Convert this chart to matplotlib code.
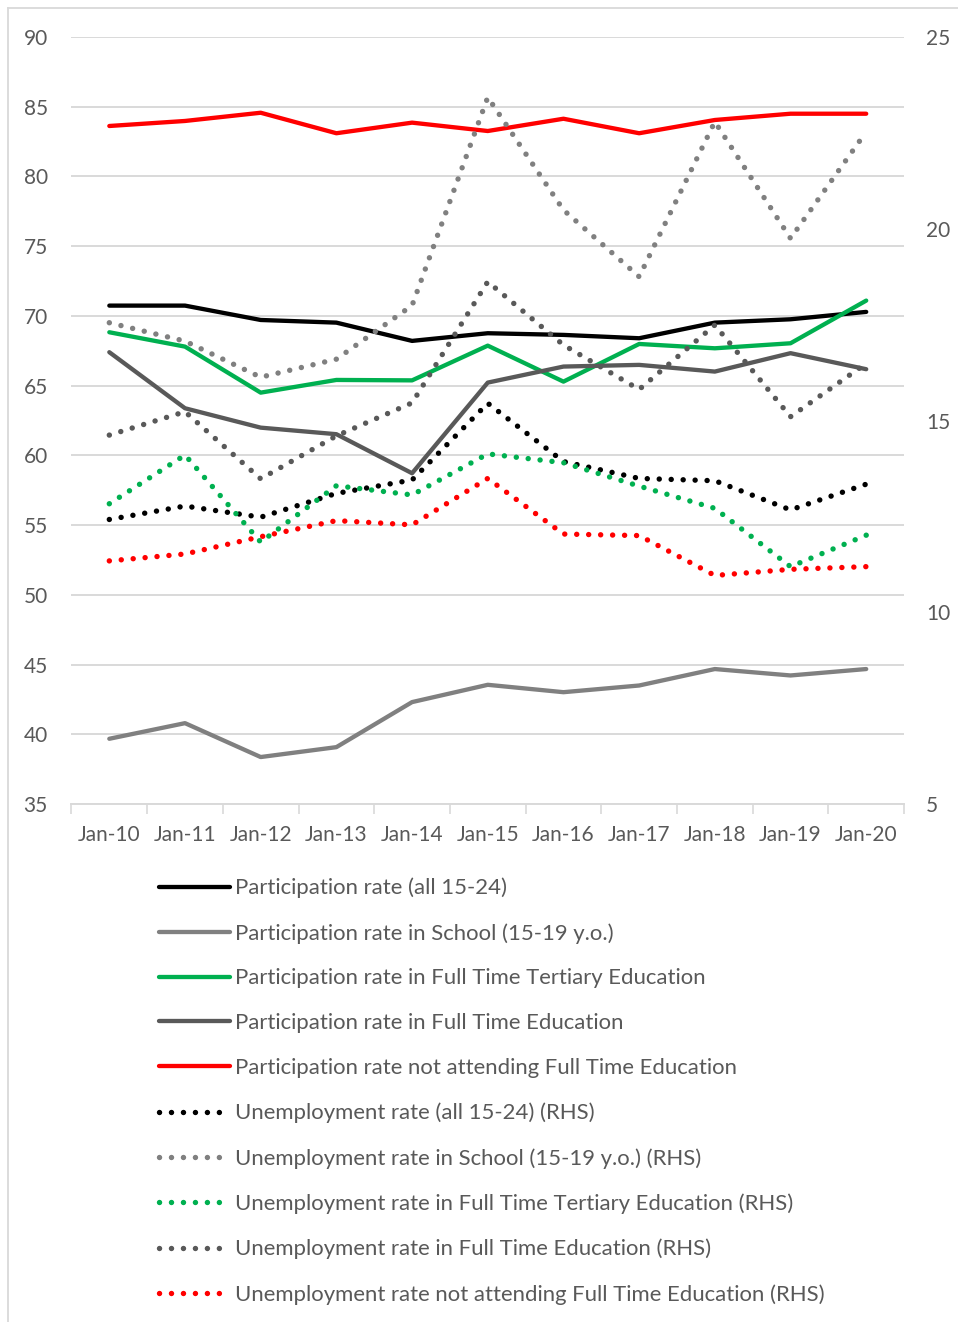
import matplotlib.pyplot as plt
from matplotlib.lines import Line2D

plt.rcParams['font.family'] = ['Lato', 'DejaVu Sans']

months = ["Jan-10", "Jan-11", "Jan-12", "Jan-13", "Jan-14", "Jan-15",
          "Jan-16", "Jan-17", "Jan-18", "Jan-19", "Jan-20"]

# participation rates (LHS)
part_all = [70.74, 70.74, 69.71, 69.52, 68.21, 68.76, 68.64, 68.40, 69.52, 69.76, 70.29]
part_school = [39.68, 40.80, 38.37, 39.08, 42.31, 43.55, 43.02, 43.50, 44.68, 44.22, 44.68]
part_tertiary = [68.83, 67.80, 64.50, 65.41, 65.38, 67.87, 65.29, 67.99, 67.68, 68.04, 71.10]
part_fulltime = [67.40, 63.38, 61.99, 61.52, 58.72, 65.22, 66.37, 66.49, 66.01, 67.33, 66.18]
part_not_ft = [83.62, 83.98, 84.57, 83.10, 83.86, 83.26, 84.14, 83.10, 84.05, 84.50, 84.50]

# unemployment rates (RHS)
unemp_all = [12.42, 12.77, 12.48, 13.10, 13.45, 15.45, 13.93, 13.49, 13.43, 12.67, 13.34]
unemp_school = [17.55, 17.07, 16.13, 16.60, 18.00, 23.43, 20.49, 18.75, 22.79, 19.75, 22.53]
unemp_tertiary = [12.83, 14.10, 11.83, 13.30, 13.06, 14.13, 13.90, 13.29, 12.71, 11.19, 12.01]
unemp_fulltime = [14.62, 15.23, 13.48, 14.60, 15.46, 18.62, 16.97, 15.81, 17.49, 15.10, 16.49]
unemp_not_ft = [11.34, 11.52, 11.97, 12.39, 12.28, 13.49, 12.04, 12.00, 10.96, 11.12, 11.19]

labels_lhs = ["Participation rate (all 15-24)",
              "Participation rate in School (15-19 y.o.)",
              "Participation rate in Full Time Tertiary Education",
              "Participation rate in Full Time Education",
              "Participation rate not attending Full Time Education"]
labels_rhs = ["Unemployment rate (all 15-24) (RHS)",
              "Unemployment rate in School (15-19 y.o.) (RHS)",
              "Unemployment rate in Full Time Tertiary Education (RHS)",
              "Unemployment rate in Full Time Education (RHS)",
              "Unemployment rate not attending Full Time Education (RHS)"]

colors = ["#000000", "#808080", "#00b050", "#595959", "#ff0000"]
text_col = "#595959"
grid_col = "#d9d9d9"

fig = plt.figure(figsize=(9.58, 13.22), dpi=100)
ax = fig.add_axes([0.0746, 0.3918, 0.8691, 0.5802])
ax2 = ax.twinx()

x = list(range(len(months)))
handles = []
for vals, c, lab in zip([part_all, part_school, part_tertiary, part_fulltime, part_not_ft],
                        colors, labels_lhs):
    h, = ax.plot(x, vals, color=c, lw=3.1, solid_capstyle='round',
                 solid_joinstyle='round', label=lab)
    handles.append(h)
for vals, c, lab in zip([unemp_all, unemp_school, unemp_tertiary, unemp_fulltime, unemp_not_ft],
                        colors, labels_rhs):
    h, = ax2.plot(x, vals, color=c, lw=3.9, linestyle=(0, (0.01, 2.2)),
                  dash_capstyle='round', label=lab)
    handles.append(h)

ax.set_xlim(-0.5, 10.5)
ax.set_ylim(35, 90)
ax.set_yticks(range(35, 91, 5))
ax2.set_ylim(5, 25)
ax2.set_yticks(range(5, 26, 5))

ax.grid(axis='y', color=grid_col, lw=1.4)
ax.set_axisbelow(True)
ax.set_xticks(x)
ax.set_xticklabels(months)
ax.set_xticks([i - 0.5 for i in range(len(months) + 1)], minor=True)
ax.tick_params(axis='x', which='major', length=0, pad=15, labelsize=15, labelcolor=text_col)
ax.tick_params(axis='x', which='minor', length=7, color=grid_col, width=1.2)
ax.tick_params(axis='y', length=0, pad=17, labelsize=15, labelcolor=text_col)
ax2.tick_params(axis='y', length=0, pad=16, labelsize=15, labelcolor=text_col)

for a in (ax, ax2):
    for s in ['top', 'left', 'right']:
        a.spines[s].set_visible(False)
    a.spines['bottom'].set_color(grid_col)
    a.spines['bottom'].set_linewidth(1.4)
ax2.spines['bottom'].set_visible(False)

fig.legend(handles=handles, loc='upper left', bbox_to_anchor=(0.157, 1 - 869 / 1322),
           frameon=False, fontsize=15.9, handlelength=3.2, handletextpad=0.24,
           labelspacing=1.12, labelcolor=text_col, borderaxespad=0)

# outer chart frame (left and top edges)
fig.add_artist(Line2D([7.5 / 958, 7.5 / 958], [0, 1 - 7.5 / 1322], color=grid_col, lw=1.3))
fig.add_artist(Line2D([7.5 / 958, 1], [1 - 7.5 / 1322, 1 - 7.5 / 1322], color=grid_col, lw=1.3))

fig.savefig("out.png", dpi=100)
